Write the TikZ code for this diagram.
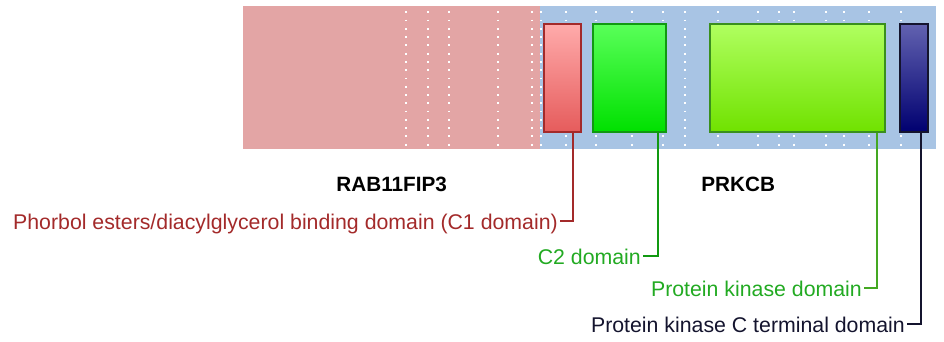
\documentclass[tikz,border=0pt]{standalone}
\usepackage{fontspec}
\setmainfont{Liberation Sans}

\definecolor{rabbg}{HTML}{E3A5A5}
\definecolor{prkbg}{HTML}{A8C4E4}
\definecolor{cone}{HTML}{A32A2A}
\definecolor{ctwo}{HTML}{119911}
\definecolor{kin}{HTML}{44A822}
\definecolor{lablgreen}{HTML}{22AA22}
\definecolor{cterm}{HTML}{14142E}

\tikzset{
    region/.style={inner sep=0pt, anchor=north west, minimum height=143pt},
    domainbox/.style={draw, line width=1.6pt, inner sep=0pt, anchor=north west, minimum height=108pt},
    domainlabel/.style={anchor=east, inner sep=2pt, text height=16pt, text depth=0pt,
        font=\fontsize{21.3}{24}\selectfont},
    genelabel/.style={anchor=base, font=\fontsize{20.7}{24}\selectfont\bfseries},
    dotline/.style={white, line width=1.8pt, dash pattern=on 1.8pt off 6.47pt},
    tick/.style={line width=2pt}
}

\begin{document}
\begin{tikzpicture}[x=1pt, y=-1pt]
    \useasboundingbox (0,0) rectangle (944,342);

    \node[
        region,
        fill=rabbg,
        minimum width=297pt,
        name=rab
    ] at (243,6) {};
    \node[
        region,
        fill=prkbg,
        minimum width=396pt,
        name=prk
    ] at (540,6) {};

    \foreach \x in {406,428,449,498,532,541,566,596,632,663,685,718,758,779,794,826,844,869,901}
        \draw[dotline] (\x,11.4) -- (\x,146);

    \node[
        domainbox,
        draw=cone,
        top color=red!33!white,
        bottom color=red!60!white!90!black,
        minimum width=37pt,
        name=c1
    ] at (543,23) {};
    \node[
        domainbox,
        draw=ctwo,
        top color=green!65!white,
        bottom color=green!88!black,
        minimum width=73pt,
        name=c2
    ] at (592,23) {};
    \node[
        domainbox,
        draw=kin!85!black,
        top color={rgb,255:red,176;green,255;blue,96},
        bottom color={rgb,255:red,112;green,226;blue,0},
        minimum width=175pt,
        name=pk
    ] at (709,23) {};
    \node[
        domainbox,
        draw=cterm,
        top color={rgb,255:red,98;green,98;blue,176},
        bottom color={rgb,255:red,0;green,0;blue,112},
        minimum width=28pt,
        name=pkc
    ] at (899,23) {};

    \node[genelabel] (rablab) at (rab.south |- 0,191) {RAB11FIP3};
    \node[genelabel] (prklab) at (prk.south |- 0,191) {PRKCB};

    \node[domainlabel, text=cone, name=c1lab] at (560,221)
        {Phorbol esters/diacylglycerol binding domain (C1 domain)};
    \node[domainlabel, text=lablgreen, name=c2lab] at (643,256) {C2 domain};
    \node[domainlabel, text=lablgreen, name=pklab] at (864,288) {Protein kinase domain};
    \node[domainlabel, text=cterm, name=pkclab] at (907,324) {Protein kinase C terminal domain};

    \draw[tick, cone] ([xshift=10.5pt]c1.south) |- (c1lab.east);
    \draw[tick, ctwo] ([xshift=28.5pt]c2.south) |- (c2lab.east);
    \draw[tick, kin] ([xshift=79.5pt]pk.south) |- (pklab.east);
    \draw[tick, cterm] ([xshift=7pt]pkc.south) |- (pkclab.east);
\end{tikzpicture}
\end{document}
